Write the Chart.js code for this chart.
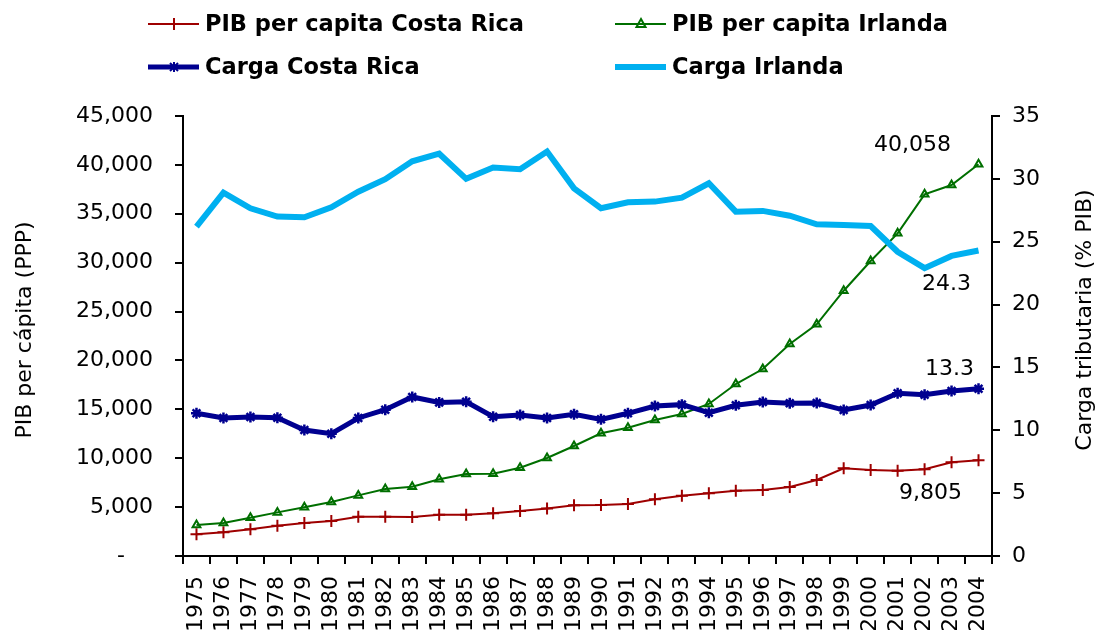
<!DOCTYPE html>
<html>
<head>
<meta charset="utf-8">
<script src="https://cdn.jsdelivr.net/npm/chart.js@4"></script>
<style>
  html, body { margin: 0; padding: 0; background: #fff; }
  #wrap { width: 1095px; height: 630px; }
</style>
</head>
<body>
<div id="wrap"><canvas id="myChart"></canvas></div>
<script>
const years = ["1975","1976","1977","1978","1979","1980","1981","1982","1983","1984",
  "1985","1986","1987","1988","1989","1990","1991","1992","1993","1994",
  "1995","1996","1997","1998","1999","2000","2001","2002","2003","2004"];

// PIB per capita (PPP), left axis
const pibCostaRica = [2220, 2420, 2730, 3100, 3370, 3580, 4020, 4020, 3990, 4230,
  4230, 4360, 4600, 4870, 5180, 5210, 5320, 5800, 6170, 6410,
  6680, 6750, 7060, 7770, 8970, 8800, 8730, 8870, 9580, 9805];
const pibIrlanda = [3170, 3370, 3920, 4460, 4980, 5520, 6200, 6850, 7090, 7840,
  8390, 8420, 9030, 10020, 11250, 12550, 13120, 13900, 14520, 15550,
  17590, 19120, 21680, 23700, 27130, 30170, 33000, 36990, 37940, 40058];

// Carga tributaria (% PIB), right axis
const cargaCostaRica = [11.35, 10.98, 11.06, 11.0, 10.02, 9.73, 10.98, 11.64, 12.65, 12.22,
  12.27, 11.08, 11.22, 10.98, 11.27, 10.87, 11.35, 11.93, 12.04, 11.4,
  11.99, 12.25, 12.15, 12.17, 11.61, 12.01, 12.94, 12.83, 13.13, 13.3];
const cargaIrlanda = [26.2, 28.9, 27.66, 27.0, 26.94, 27.74, 28.98, 29.97, 31.4, 32.0,
  30.0, 30.9, 30.76, 32.17, 29.25, 27.66, 28.14, 28.19, 28.5, 29.65,
  27.39, 27.45, 27.07, 26.39, 26.33, 26.25, 24.2, 22.9, 23.87, 24.3];

const leftTicks = { min: 0, max: 45000, step: 5000 };
const rightTicks = { min: 0, max: 35, step: 5 };

const seriesNames = ["PIB per capita Costa Rica", "PIB per capita Irlanda",
  "Carga Costa Rica", "Carga Irlanda"];

const RED = "#9E0000", GREEN = "#006F00", NAVY = "#000090", SKY = "#00B0F0";
const FONT = '"DejaVu Sans", Verdana, sans-serif';

function fmt(v) { return v.toLocaleString("en-US"); }

// small marker helper for the legend
function marker(ctx, style, x, y, color) {
  ctx.save();
  ctx.strokeStyle = color;
  ctx.lineWidth = 2;
  ctx.beginPath();
  if (style === "cross") {
    ctx.moveTo(x - 6, y); ctx.lineTo(x + 6, y);
    ctx.moveTo(x, y - 6); ctx.lineTo(x, y + 6);
  } else if (style === "triangle") {
    ctx.moveTo(x, y - 5); ctx.lineTo(x + 4.5, y + 3); ctx.lineTo(x - 4.5, y + 3); ctx.closePath();
  } else if (style === "star") {
    ctx.moveTo(x, y - 5); ctx.lineTo(x, y + 5);
    ctx.moveTo(x - 4, y - 4); ctx.lineTo(x + 4, y + 4);
    ctx.moveTo(x + 4, y - 4); ctx.lineTo(x - 4, y + 4);
  }
  ctx.stroke();
  ctx.restore();
}

const extras = {
  id: "extras",
  afterDraw(chart) {
    const ctx = chart.ctx;
    const xs = chart.scales.x, yL = chart.scales.y, yR = chart.scales.y1;
    const last = years.length - 1;
    const lx = xs.getPixelForValue(last);

    ctx.save();
    ctx.fillStyle = "#000";
    ctx.textAlign = "center";
    ctx.textBaseline = "middle";

    // axis titles
    ctx.font = "22px " + FONT;
    ctx.save();
    ctx.translate(25, 330);
    ctx.rotate(-Math.PI / 2);
    ctx.fillText("PIB per cápita (PPP)", 0, 0);
    ctx.restore();
    ctx.save();
    ctx.translate(1085, 320);
    ctx.rotate(-Math.PI / 2);
    ctx.fillText("Carga tributaria (% PIB)", 0, 0);
    ctx.restore();

    // end-of-series labels
    ctx.fillText(fmt(pibIrlanda[last]), lx - 66, yL.getPixelForValue(pibIrlanda[last]) - 19);
    ctx.fillText(cargaIrlanda[last].toFixed(1), lx - 32, yR.getPixelForValue(cargaIrlanda[last]) + 34);
    ctx.fillText(cargaCostaRica[last].toFixed(1), lx - 29, yR.getPixelForValue(cargaCostaRica[last]) - 20);
    ctx.fillText(fmt(pibCostaRica[last]), lx - 48, yL.getPixelForValue(pibCostaRica[last]) + 33);

    // legend
    const items = [
      { x: 148, y: 24, color: RED, w: 2, m: "cross" },
      { x: 615, y: 24, color: GREEN, w: 2, m: "triangle" },
      { x: 148, y: 67, color: NAVY, w: 5, m: "star" },
      { x: 615, y: 67, color: SKY, w: 6, m: null }
    ];
    ctx.font = "bold 22.5px " + FONT;
    ctx.textAlign = "left";
    items.forEach((it, i) => {
      ctx.strokeStyle = it.color;
      ctx.lineWidth = it.w;
      ctx.beginPath();
      ctx.moveTo(it.x, it.y);
      ctx.lineTo(it.x + 51, it.y);
      ctx.stroke();
      if (it.m) marker(ctx, it.m, it.x + 26, it.y, it.color);
      ctx.fillStyle = "#000";
      ctx.fillText(seriesNames[i], it.x + 57, it.y + 1);
    });
    ctx.restore();
  }
};

const axisGrid = { drawOnChartArea: false, drawTicks: true, tickLength: 8, color: "#000", lineWidth: 2 };
const axisBorder = { display: true, color: "#000", width: 2 };

new Chart(document.getElementById("myChart").getContext("2d"), {
  type: "line",
  data: {
    labels: years,
    datasets: [
      {
        label: seriesNames[0], data: pibCostaRica, yAxisID: "y",
        borderColor: RED, backgroundColor: RED, borderWidth: 2,
        pointStyle: "cross", pointRadius: 6, pointBorderWidth: 2, order: 3
      },
      {
        label: seriesNames[1], data: pibIrlanda, yAxisID: "y",
        borderColor: GREEN, backgroundColor: "rgba(0,0,0,0)", borderWidth: 2,
        pointStyle: "triangle", pointRadius: 4.5, pointBorderWidth: 2, order: 2
      },
      {
        label: seriesNames[2], data: cargaCostaRica, yAxisID: "y1",
        borderColor: NAVY, backgroundColor: NAVY, borderWidth: 5,
        pointStyle: "star", pointRadius: 5.5, pointBorderWidth: 2.5, order: 1
      },
      {
        label: seriesNames[3], data: cargaIrlanda, yAxisID: "y1",
        borderColor: SKY, backgroundColor: SKY, borderWidth: 6,
        pointRadius: 0, order: 0
      }
    ]
  },
  options: {
    responsive: true,
    maintainAspectRatio: false,
    animation: false,
    layout: { padding: { top: 116, left: 0, right: 0, bottom: 0 } },
    plugins: { legend: { display: false }, tooltip: { enabled: false } },
    scales: {
      x: {
        offset: true,
        grid: Object.assign({ offset: true }, axisGrid),
        border: axisBorder,
        ticks: { color: "#000", font: { family: FONT, size: 22 }, minRotation: 90, maxRotation: 90, padding: 12, autoSkip: false },
        afterFit: s => { s.height = 74; }
      },
      y: {
        position: "left",
        min: leftTicks.min, max: leftTicks.max,
        grid: axisGrid,
        border: axisBorder,
        ticks: {
          stepSize: leftTicks.step, color: "#000", font: { family: FONT, size: 22 }, padding: 22,
          callback: v => v === 0 ? "-    " : fmt(v)
        },
        afterFit: s => { s.width = 183; }
      },
      y1: {
        position: "right",
        min: rightTicks.min, max: rightTicks.max,
        grid: axisGrid,
        border: axisBorder,
        ticks: { stepSize: rightTicks.step, color: "#000", font: { family: FONT, size: 22 }, padding: 12 },
        afterFit: s => { s.width = 103; }
      }
    }
  },
  plugins: [extras]
});
</script>
</body>
</html>
